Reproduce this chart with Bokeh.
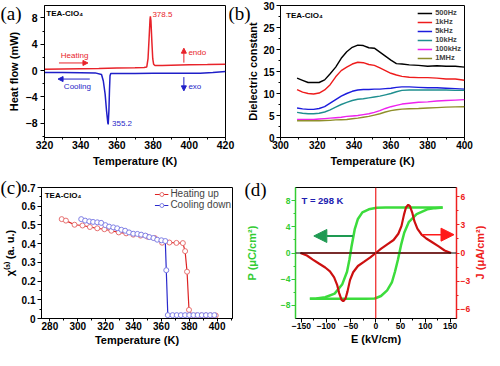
import math
from bokeh.plotting import figure
from bokeh.models import (Range1d, LinearAxis, FixedTicker, Label, Arrow, NormalHead,
                          Legend, LegendItem, Span)
from bokeh.layouts import column, row
from bokeh.embed import file_html
from bokeh.resources import INLINE

SANS = "Liberation Sans"
SERIF = "Liberation Serif"

# ---------------- (a) DSC ----------------
a_heat_T = [320, 330, 340, 350, 360, 370, 375, 376.5, 377.2, 377.8, 378.3, 378.5, 378.8,
            379.3, 379.8, 380.3, 381, 385, 390, 400, 410, 420]
a_heat_HF = [0.2, 0.24, 0.28, 0.32, 0.37, 0.42, 0.47, 0.55, 1.8, 5.0, 7.8, 8.25, 7.6,
             4.5, 1.8, 0.95, 0.75, 0.78, 0.82, 0.86, 0.9, 0.97]
a_cool_T = [320, 330, 340, 348, 351.5, 352.5, 353.5, 354.3, 355.0, 355.2, 355.6, 355.9,
            356.2, 356.6, 360, 370, 380, 390, 400, 406, 413, 420]
a_cool_HF = [-0.3, -0.32, -0.33, -0.36, -0.6, -1.6, -3.6, -6.2, -8.0, -8.2, -6.0, -3.0,
             -0.8, -0.45, -0.45, -0.44, -0.43, -0.42, -0.42, -0.42, -0.3, -0.15]

# ---------------- (b) dielectric ----------------
b_T = [309, 312, 315, 318, 321, 324, 327, 330, 333, 336, 339, 342, 345, 348, 351, 354,
       357, 360, 363, 366, 370, 375, 380, 385, 390, 395, 400]
b_500Hz = [13.5, 13.0, 12.5, 12.5, 12.5, 13.1, 14.5, 16.0, 18.0, 19.5, 20.5, 21.0, 20.9,
           20.4, 20.3, 19.4, 18.5, 17.6, 16.8, 16.7, 16.5, 16.4, 16.2, 16.3, 16.2, 16.2, 16.0]
b_1kHz = [10.9, 10.3, 10.0, 9.9, 10.1, 10.8, 12.0, 13.8, 15.2, 16.0, 16.7, 17.1, 17.0,
          16.6, 16.4, 15.8, 15.2, 14.6, 14.2, 13.9, 13.7, 13.6, 13.6, 13.5, 13.3, 13.3, 13.0]
b_5kHz = [6.7, 6.5, 6.4, 6.4, 6.6, 7.0, 7.8, 8.6, 9.4, 10.0, 10.5, 10.8, 10.9, 10.9, 11.0,
          11.0, 11.1, 11.2, 11.4, 11.5, 11.5, 11.4, 11.3, 11.3, 11.2, 11.1, 11.0]
b_10kHz = [5.7, 5.5, 5.4, 5.4, 5.5, 5.8, 6.3, 6.9, 7.5, 8.0, 8.4, 8.7, 8.8, 9.0, 9.2, 9.4,
           9.7, 10.0, 10.4, 10.7, 10.8, 10.8, 10.8, 10.8, 10.8, 10.7, 10.7]
b_100kHz = [4.1, 4.1, 4.1, 4.1, 4.2, 4.3, 4.4, 4.5, 4.6, 4.8, 4.9, 5.0, 5.2, 5.4, 5.7, 6.1,
            6.6, 7.0, 7.3, 7.6, 7.8, 8.0, 8.1, 8.3, 8.4, 8.5, 8.6]
b_1MHz = [3.8, 3.8, 3.8, 3.8, 3.8, 3.85, 3.9, 4.0, 4.05, 4.1, 4.25, 4.4, 4.6, 4.8, 5.1, 5.4,
          5.8, 6.1, 6.3, 6.45, 6.55, 6.6, 6.7, 6.8, 6.9, 6.95, 7.0]
b_labels = ["500Hz", "1kHz", "5kHz", "10kHz", "100kHz", "1MHz"]
b_colors = ["#000000", "#ee1c1c", "#1c1cdd", "#1f8f8f", "#ee22ee", "#8f8f2a"]

# ---------------- (c) SHG ----------------
c_heat_T = [288.5, 291.5, 297.7, 303.4, 308.7, 314.0, 319.1, 324.1, 329.4, 334.7, 339.8,
            345.1, 350.1, 355.2, 360.5, 365.7, 370.8, 375.4, 377.0, 378.4, 379.8, 381.5,
            385.0, 388.5, 392.0, 395.5, 399.0]
c_heat_X = [0.531, 0.523, 0.501, 0.497, 0.489, 0.482, 0.477, 0.469, 0.460, 0.455, 0.448,
            0.443, 0.437, 0.430, 0.405, 0.406, 0.404, 0.403, 0.360, 0.250, 0.046, 0.016,
            0.016, 0.016, 0.016, 0.016, 0.016]
c_cool_T = [302.5, 305.3, 308.3, 311.0, 314.0, 316.8, 319.8, 322.5, 325.5, 328.3, 331.3,
            334.0, 336.8, 339.8, 342.8, 345.5, 348.5, 351.3, 354.3, 357.0, 360.0, 362.8,
            363.5, 364.6, 368.0, 371.0, 374.0, 377.0, 380.0, 383.0, 386.0, 389.0, 392.0,
            395.0, 398.0]
c_cool_X = [0.531, 0.523, 0.519, 0.516, 0.514, 0.511, 0.499, 0.491, 0.487, 0.482, 0.474,
            0.469, 0.460, 0.453, 0.452, 0.448, 0.443, 0.435, 0.430, 0.421, 0.418, 0.414,
            0.258, 0.018, 0.018, 0.018, 0.018, 0.018, 0.018, 0.018, 0.018, 0.018, 0.018,
            0.018, 0.018]

# ---------------- (d) P-E / J-E ----------------
d_up_E = [135, 100, 60, 20, 2, -14, -27, -36, -42.5, -49, -53, -58, -67.5, -83, -102, -120, -133]
d_up_P = [6.95, 6.95, 6.95, 6.95, 6.9, 6.67, 6.2, 5.2, 3.6, 0.95, -0.95, -2.86, -4.76, -6.2,
          -6.76, -6.95, -7.0]
d_lo_E = [-133, -100, -60, -20, -2, 10.6, 23, 32.5, 38.8, 45, 51, 57.5, 67, 82.5, 104, 120, 135]
d_lo_P = [-7.0, -7.0, -7.0, -7.0, -6.95, -6.57, -5.7, -4.5, -2.86, -0.95, 1.2, 3.1, 4.76, 5.95,
          6.67, 6.85, 6.95]
d_J_E = [-152, -139, -127, -114, -102, -92.5, -84, -78, -74, -69, -65.6, -61, -57, -52, -45.6,
         -36, -24, -11, 0, 11, 24, 36, 45.6, 52, 57, 61, 65.6, 69, 74, 78, 84, 92.5, 102, 114,
         127, 139, 152]
d_J = [0, -0.27, -0.7, -1.15, -1.55, -1.96, -2.6, -3.4, -4.26, -5.0, -5.15, -4.86, -4.1, -2.9,
       -2.06, -1.39, -0.95, -0.47, 0, 0.47, 0.95, 1.39, 2.06, 2.9, 4.1, 4.86, 5.15, 5.0, 4.26,
       3.4, 2.6, 1.96, 1.55, 1.15, 0.7, 0.27, 0]

panel_letters = ["(a)", "(b)", "(c)", "(d)"]
j_axis_title = "J (μA/cm²)"


def make_fig(w, h, xr, yr, bl, br, bt, bb):
    p = figure(width=w, height=h, x_range=Range1d(*xr), y_range=Range1d(*yr),
               output_backend="svg", toolbar_location=None,
               min_border_left=bl, min_border_right=br, min_border_top=bt, min_border_bottom=bb)
    p.xgrid.visible = False
    p.ygrid.visible = False
    p.outline_line_color = "black"
    p.outline_line_width = 1
    p.background_fill_color = "white"
    p.border_fill_color = "white"
    return p


def style_axis(ax, tick_size, label_size, color="black", tick_out=4, lstand=2, astand=3):
    ax.axis_line_color = color
    ax.major_tick_line_color = color
    ax.minor_tick_line_color = color
    ax.major_label_text_color = color
    ax.axis_label_text_color = color
    ax.major_label_text_font = SANS
    ax.major_label_text_font_style = "bold"
    ax.major_label_text_font_size = tick_size
    ax.axis_label_text_font = SANS
    ax.axis_label_text_font_style = "bold"
    ax.axis_label_text_font_size = label_size
    ax.major_tick_in = 0
    ax.major_tick_out = tick_out
    ax.minor_tick_in = 0
    ax.minor_tick_out = 2
    ax.major_label_standoff = lstand
    ax.axis_label_standoff = astand


def overlay_fig(w, h, margin):
    q = figure(width=w, height=h, x_range=Range1d(0, 1), y_range=Range1d(0, 1),
               output_backend="svg", toolbar_location=None,
               x_axis_location=None, y_axis_location=None, min_border=0, margin=margin)
    q.xgrid.visible = False
    q.ygrid.visible = False
    q.outline_line_color = None
    q.background_fill_alpha = 0
    q.border_fill_alpha = 0
    return q


def letter_fig(text, margin):
    q = overlay_fig(26, 24, margin)
    q.add_layout(Label(x=0, y=24, x_units="screen", y_units="screen", text=text,
                       text_font=SERIF, text_font_size="19px", text_baseline="top",
                       text_align="left", text_color="black"))
    return q


def txt(p, x, y, text, color="black", size="8px", bold=False, align="left", base="middle"):
    p.add_layout(Label(x=x, y=y, text=text, text_font=SANS, text_font_size=size,
                       text_color=color, text_font_style="bold" if bold else "normal",
                       text_align=align, text_baseline=base))


def arrow(p, x0, y0, x1, y1, color, size=6, width=1):
    p.add_layout(Arrow(end=NormalHead(size=size, fill_color=color, line_color=color),
                       x_start=x0, y_start=y0, x_end=x1, y_end=y1,
                       line_color=color, line_width=width))


RED_A = "#e8232a"
BLUE_A = "#1f1fc8"

# ---------- panel a ----------
fa = make_fig(242, 175, (320, 420), (-10.2, 9.9), 44, 17, 5, 38)
fa.line(a_heat_T, a_heat_HF, line_color=RED_A, line_width=1.5)
fa.line(a_cool_T, a_cool_HF, line_color=BLUE_A, line_width=1.5)
fa.xaxis.ticker = FixedTicker(ticks=[320, 340, 360, 380, 400, 420],
                              minor_ticks=[330, 350, 370, 390, 410])
fa.yaxis.ticker = FixedTicker(ticks=[-8, -4, 0, 4, 8], minor_ticks=[-10, -6, -2, 2, 6])
fa.xaxis.axis_label = "Temperature (K)"
fa.yaxis.axis_label = "Heat flow (mW)"
style_axis(fa.xaxis[0], "10.5px", "11px", tick_out=3, lstand=0, astand=3)
style_axis(fa.yaxis[0], "10.5px", "11px", tick_out=4, lstand=3, astand=3)
txt(fa, 321, 8.7, "TEA-ClO₄", bold=True, size="8px")
txt(fa, 379.6, 8.6, "378.5", color=RED_A, size="8px")
txt(fa, 357.3, -8.0, "355.2", color=BLUE_A, size="8px")
txt(fa, 329, 2.35, "Heating", color=RED_A, size="8px")
arrow(fa, 328, 1.15, 344, 1.15, RED_A, size=5)
txt(fa, 330.7, -2.5, "Cooling", color=BLUE_A, size="8px")
arrow(fa, 345, -1.3, 327.5, -1.3, BLUE_A, size=5)
arrow(fa, 397, 1.2, 397, 3.4, RED_A, size=5)
txt(fa, 399.5, 2.8, "endo", color=RED_A, size="8px")
arrow(fa, 397, -1.0, 397, -3.1, BLUE_A, size=5)
txt(fa, 399.5, -2.5, "exo", color=BLUE_A, size="8px")

# ---------- panel b ----------
fb = make_fig(242, 175, (300, 400), (0, 30), 38, 20, 5, 38)
b_series = [b_500Hz, b_1kHz, b_5kHz, b_10kHz, b_100kHz, b_1MHz]
items = []
for lab, col, ys in zip(b_labels, b_colors, b_series):
    r = fb.line(b_T, ys, line_color=col, line_width=1.4)
    items.append(LegendItem(label=lab, renderers=[r]))
leg_b = Legend(items=items, location="top_right", border_line_color=None,
               background_fill_alpha=0, label_text_font=SANS, label_text_font_size="7.5px",
               label_text_font_style="bold", glyph_width=15, glyph_height=8, label_height=8,
               spacing=0, padding=0, margin=3, label_standoff=3)
fb.add_layout(leg_b)
fb.xaxis.ticker = FixedTicker(ticks=[300, 320, 340, 360, 380, 400],
                              minor_ticks=[310, 330, 350, 370, 390])
fb.yaxis.ticker = FixedTicker(ticks=[0, 5, 10, 15, 20, 25, 30],
                              minor_ticks=[2.5, 7.5, 12.5, 17.5, 22.5, 27.5])
fb.xaxis.axis_label = "Temperature (K)"
fb.yaxis.axis_label = "Dielectric constant"
style_axis(fb.xaxis[0], "10px", "11px", tick_out=3, lstand=0, astand=3)
style_axis(fb.yaxis[0], "10px", "11px", tick_out=4, lstand=2, astand=1)
txt(fb, 303, 27.8, "TEA-ClO₄", bold=True, size="8px")

# ---------- panel c ----------
RED_C = "#dd2222"
BLUE_C = "#2a2acc"
fc = make_fig(242, 175, (274, 411), (0, 0.7), 40, 10, 12, 31)
lh = fc.line(c_heat_T, c_heat_X, line_color=RED_C, line_width=1.2)
sh = fc.scatter(c_heat_T, c_heat_X, size=5, marker="circle", line_color="#e77070",
                fill_color="white", line_width=1)
lc = fc.line(c_cool_T, c_cool_X, line_color=BLUE_C, line_width=1.2)
sc = fc.scatter(c_cool_T, c_cool_X, size=5, marker="circle", line_color="#7f7fe6",
                fill_color="white", line_width=1)
leg_c = Legend(items=[LegendItem(label="Heating up", renderers=[lh, sh]),
                      LegendItem(label="Cooling down", renderers=[lc, sc])],
               location="top_right", border_line_color=None, background_fill_alpha=0,
               label_text_font=SANS, label_text_font_size="10px", glyph_width=14,
               glyph_height=10, label_height=10, spacing=0, padding=0, margin=1,
               label_standoff=2)
fc.add_layout(leg_c)
fc.xaxis.ticker = FixedTicker(ticks=[280, 300, 320, 340, 360, 380, 400],
                              minor_ticks=[290, 310, 330, 350, 370, 390, 410])
fc.yaxis.ticker = FixedTicker(ticks=[0, 0.1, 0.2, 0.3, 0.4, 0.5, 0.6, 0.7],
                              minor_ticks=[0.05, 0.15, 0.25, 0.35, 0.45, 0.55, 0.65])
fc.xaxis.axis_label = "Temperature (K)"
fc.yaxis.axis_label = "χ⁽³⁾ (a. u.)"
style_axis(fc.xaxis[0], "10px", "11px", tick_out=3, lstand=0, astand=1)
style_axis(fc.yaxis[0], "10px", "11px", tick_out=4, lstand=2, astand=3)
fc.yaxis[0].formatter.use_scientific = False
txt(fc, 276.3, 0.655, "TEA-ClO₄", bold=True, size="8px")

# ---------- panel d ----------
GREEN = "#3cdc3c"
GREEN_AX = "#33cc33"
RED_D = "#ee2020"
DARKRED = "#cc1010"
fd = make_fig(242, 175, (-162, 163), (-10, 10), 47, 28, 11, 32)
fd.extra_y_ranges = {"J": Range1d(-7, 7)}
fd.add_layout(Span(location=0, dimension="width", line_color="black", line_width=1))
fd.add_layout(Span(location=0, dimension="height", line_color=RED_D, line_width=1.2))
fd.line([-152, 152], [0, 0], line_color=RED_D, line_width=1.5, y_range_name="J")
fd.line(d_up_E, d_up_P, line_color=GREEN, line_width=2.5)
fd.line(d_lo_E, d_lo_P, line_color=GREEN, line_width=2.5)
fd.line(d_J_E, d_J, line_color=DARKRED, line_width=2.2, y_range_name="J")
arrow(fd, -46, 2.6, -125, 2.6, "#1e9a52", size=13, width=2)
arrow(fd, 93, 2.8, 158, 2.8, "#ff1a1a", size=13, width=1.5)
txt(fd, -150, 8.0, "T = 298 K", color="#2020b0", bold=True, size="9.5px")
rax = LinearAxis(y_range_name="J")
fd.add_layout(rax, "right")
fd.xaxis[0].ticker = FixedTicker(ticks=[-150, -100, -50, 0, 50, 100, 150],
                                 minor_ticks=[-125, -75, -25, 25, 75, 125])
fd.yaxis[0].ticker = FixedTicker(ticks=[-8, -4, 0, 4, 8], minor_ticks=[-6, -2, 2, 6])
rax.ticker = FixedTicker(ticks=[-6, -3, 0, 3, 6], minor_ticks=[-4.5, -1.5, 1.5, 4.5])
fd.xaxis[0].axis_label = "E (kV/cm)"
fd.yaxis[0].axis_label = "P (μC/cm²)"
style_axis(fd.xaxis[0], "8.5px", "11px", tick_out=4, lstand=0, astand=1)
style_axis(fd.yaxis[0], "8.5px", "11px", color=GREEN_AX, tick_out=4, lstand=1, astand=20)
style_axis(rax, "8.5px", "11px", color=RED_D, tick_out=3, lstand=1, astand=4)
fd.yaxis[0].axis_line_width = 1.5
rax.axis_line_width = 1.5

# ---------- overlays: panel letters and the right-hand axis title of (d) ----------
la = letter_fig(panel_letters[0], (2, 0, 0, 0))
lb = letter_fig(panel_letters[1], (2, 0, 0, 202))
lc_ = letter_fig(panel_letters[2], (1, 0, 0, 0))
ld = letter_fig(panel_letters[3], (3, 0, 0, 218))
lj = overlay_fig(16, 132, (11, 0, 0, 201))
lj.add_layout(Label(x=8, y=66, x_units="screen", y_units="screen", text=j_axis_title,
                    angle=math.pi / 2, text_font=SANS, text_font_size="11px",
                    text_font_style="bold", text_color=RED_D, text_align="center",
                    text_baseline="middle"))

layout = column(
    row(fa, fb),
    row(la, lb, margin=(-175, 0, 149, 0)),
    row(fc, fd),
    row(lc_, ld, lj, margin=(-175, 0, 32, 0)),
)
open("out.html", "w").write(file_html(layout, INLINE))
